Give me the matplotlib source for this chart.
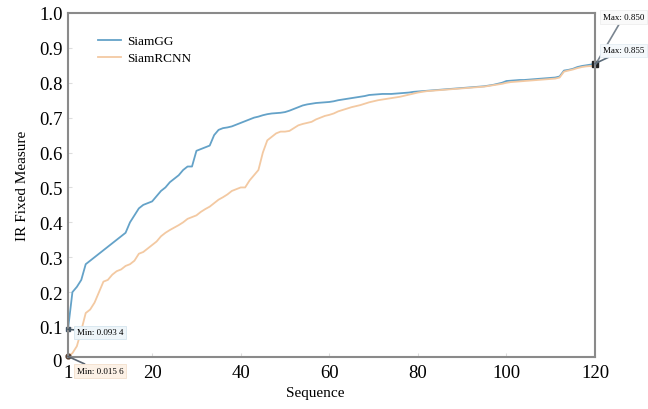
import matplotlib
matplotlib.use("Agg")
import matplotlib.pyplot as plt
import matplotlib.transforms as mtransforms

plt.rcParams['font.family'] = ['Liberation Serif', 'DejaVu Serif']

sequence = list(range(1, 121))

siamgg = [
    0.0934, 0.20, 0.215, 0.235, 0.28, 0.29, 0.30, 0.31, 0.32, 0.33,
    0.34, 0.35, 0.36, 0.37, 0.40, 0.42, 0.44, 0.45, 0.455, 0.46,
    0.475, 0.49, 0.50, 0.515, 0.525, 0.535, 0.55, 0.56, 0.56, 0.605,
    0.61, 0.615, 0.62, 0.65, 0.665, 0.67, 0.672, 0.675, 0.68, 0.685,
    0.69, 0.695, 0.70, 0.703, 0.707, 0.71, 0.712, 0.713, 0.714, 0.716,
    0.72, 0.725, 0.73, 0.735, 0.738, 0.74, 0.742, 0.743, 0.744, 0.745,
    0.747, 0.75, 0.752, 0.754, 0.756, 0.758, 0.76, 0.762, 0.765, 0.766,
    0.767, 0.768, 0.768, 0.768, 0.769, 0.77, 0.771, 0.772, 0.774, 0.775,
    0.776, 0.777, 0.778, 0.779, 0.780, 0.781, 0.782, 0.783, 0.784, 0.785,
    0.786, 0.787, 0.788, 0.789, 0.790, 0.792, 0.794, 0.797, 0.80, 0.805,
    0.806, 0.807, 0.808, 0.808, 0.809, 0.810, 0.811, 0.812, 0.813, 0.814,
    0.815, 0.818, 0.835, 0.837, 0.84, 0.845, 0.848, 0.850, 0.852, 0.855,
]

siamrcnn = [
    0.0156, 0.025, 0.045, 0.09, 0.14, 0.15, 0.17, 0.20, 0.23, 0.235,
    0.25, 0.26, 0.265, 0.275, 0.28, 0.29, 0.31, 0.315, 0.325, 0.335,
    0.345, 0.36, 0.37, 0.378, 0.385, 0.392, 0.40, 0.41, 0.415, 0.42,
    0.43, 0.438, 0.445, 0.455, 0.465, 0.472, 0.48, 0.49, 0.495, 0.50,
    0.50, 0.52, 0.535, 0.55, 0.60, 0.635, 0.645, 0.655, 0.66, 0.66,
    0.662, 0.67, 0.678, 0.682, 0.685, 0.688, 0.695, 0.70, 0.705, 0.708,
    0.712, 0.718, 0.722, 0.726, 0.73, 0.733, 0.736, 0.74, 0.744, 0.747,
    0.75, 0.752, 0.754, 0.756, 0.758, 0.76, 0.763, 0.766, 0.769, 0.772,
    0.774, 0.776, 0.777, 0.778, 0.779, 0.780, 0.781, 0.782, 0.783, 0.784,
    0.785, 0.786, 0.787, 0.788, 0.789, 0.791, 0.793, 0.795, 0.797, 0.80,
    0.802, 0.803, 0.804, 0.805, 0.806, 0.807, 0.808, 0.809, 0.810, 0.811,
    0.812, 0.815, 0.832, 0.835, 0.838, 0.842, 0.845, 0.847, 0.848, 0.850,
]

x_ticks = [1, 20, 40, 60, 80, 100, 120]
y_ticks = [0.1, 0.2, 0.3, 0.4, 0.5, 0.6, 0.7, 0.8, 0.9, 1.0]
y_tick_labels = ['0.1', '0.2', '0.3', '0.4', '0.5', '0.6', '0.7', '0.8', '0.9', '1.0']

blue = '#64a2c8'
orange = '#f3c9a2'

fig = plt.figure(figsize=(6.48, 4.10), dpi=100)
ax = fig.add_axes([68/648, 52/410, (595-68)/648, (358-14)/410])

ax.plot(sequence, siamgg, color=blue, lw=1.3, label='SiamGG')
ax.plot(sequence, siamrcnn, color=orange, lw=1.3, label='SiamRCNN')

ax.set_xlim(1, 120)
ax.set_ylim(0.014, 1.0)
ax.set_xticks(x_ticks)
ax.set_yticks(y_ticks)
ax.set_yticklabels(y_tick_labels)
ax.tick_params(axis='both', labelsize=13.5, length=3, direction='in', color='#dddddd', pad=4)
ax.tick_params(axis='x', pad=5)

# "0" label at the bottom of y-axis (slightly below the spine)
trans = mtransforms.blended_transform_factory(ax.transAxes, ax.transData)
ax.text(-0.012, 0.0, '0', transform=trans, ha='right', va='center', fontsize=13.5, clip_on=False)

for s in ax.spines.values():
    s.set_color('#8a8a8a')
    s.set_linewidth(1.5)

ax.set_xlabel('Sequence', fontsize=11, labelpad=2)
ax.xaxis.set_label_coords(0.47, -0.085)
ax.set_ylabel('IR Fixed Measure', fontsize=11, labelpad=7)

leg = ax.legend(loc='upper left', bbox_to_anchor=(0.035, 0.97), frameon=False, fontsize=9.5,
                handlelength=1.7, handletextpad=0.5, labelspacing=0.35)

# markers at extremes
ax.plot([1], [siamgg[0]], marker='s', ms=3, color='#445566', clip_on=False)
ax.plot([1], [siamrcnn[0]], marker='o', ms=3.5, color='#5a4030', clip_on=False)
ax.plot([120], [siamgg[-1]], marker='s', ms=4, color='#222222', clip_on=False)

ax.annotate('Min: 0.093 4', xy=(1, siamgg[0]), xytext=(3.0, 0.085), fontsize=6.5,
            ha='left', va='center', annotation_clip=False,
            bbox=dict(boxstyle='square,pad=0.3', fc='#eef5f9', ec='#d5e5ee', lw=0.6),
            arrowprops=dict(arrowstyle='-', color='#4a5a66', lw=1.2, shrinkA=0, shrinkB=0))
ax.annotate('Min: 0.015 6', xy=(1, siamrcnn[0]), xytext=(3.0, -0.026), fontsize=6.5,
            ha='left', va='center', annotation_clip=False,
            bbox=dict(boxstyle='square,pad=0.3', fc='#fcf1e6', ec='#f3e0cc', lw=0.6),
            arrowprops=dict(arrowstyle='-', color='#5a6470', lw=1.2, shrinkA=0, shrinkB=0))
ax.annotate('Max: 0.850', xy=(120, siamrcnn[-1]), xytext=(121.7, 0.988), fontsize=6.5,
            ha='left', va='center', annotation_clip=False,
            bbox=dict(boxstyle='square,pad=0.3', fc='#fafafa', ec='#eeeeee', lw=0.6),
            arrowprops=dict(arrowstyle='-', color='#7a8590', lw=1.2, shrinkA=0, shrinkB=0))
ax.annotate('Max: 0.855', xy=(120, siamgg[-1]), xytext=(121.7, 0.893), fontsize=6.5,
            ha='left', va='center', annotation_clip=False,
            bbox=dict(boxstyle='square,pad=0.3', fc='#f4f8fb', ec='#e4edf3', lw=0.6),
            arrowprops=dict(arrowstyle='-', color='#5a6a78', lw=1.2, shrinkA=0, shrinkB=0))

fig.savefig('out.png', dpi=100)
